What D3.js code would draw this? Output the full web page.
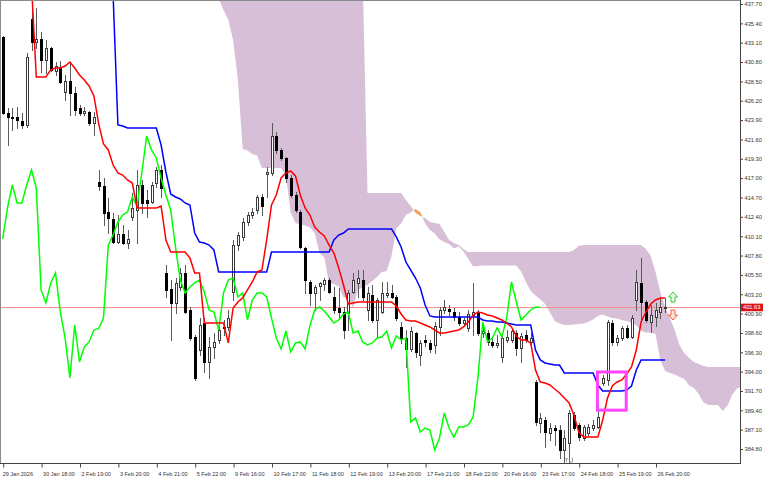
<!DOCTYPE html>
<html><head><meta charset="utf-8">
<script src="https://cdn.jsdelivr.net/npm/d3@7"></script>
<style>
html,body{margin:0;padding:0;background:#fff;}
svg{display:block;font-family:"Liberation Sans",Arial,sans-serif;}
</style></head><body>
<svg id="chart" width="768" height="480"></svg>
<script>
// ---- time axis labels (every 8 bars) ----
const timeLabels = ["29 Jan 2026","30 Jan 18:00","2 Feb 19:00","3 Feb 20:00","4 Feb 21:00","5 Feb 22:00","9 Feb 16:00","10 Feb 17:00","11 Feb 18:00","12 Feb 19:00","13 Feb 20:00","17 Feb 21:00","18 Feb 22:00","20 Feb 16:00","23 Feb 17:00","24 Feb 18:00","25 Feb 19:00","26 Feb 20:00"];
const timeLabelBars = [0,8,16,24,32,40,48,56,64,72,80,88,96,104,112,120,128,136];
// ---- price axis labels ----
const priceTicks = [437.70,435.40,433.10,430.80,428.50,426.20,423.90,421.60,419.30,417.00,414.70,412.40,410.10,407.80,405.50,403.20,400.90,398.60,396.30,394.00,391.70,389.40,387.10,384.80];
const lastPrice = 401.63;

// ---- candles (bars 0..138) ----
const opens = [433.78,424.74,424.27,424.27,423.79,423.32,435.92,433.18,433.54,431.04,432.47,429.74,430.21,427.24,428.55,427.12,425.34,424.74,424.86,423.56,
416.54,416.07,412.98,412.15,409.41,410.36,409.29,412.38,413.21,416.19,414.40,414.17,416.42,417.97,405.73,403.82,402.16,404.06,405.73,401.33,
398.12,396.57,399.78,395.15,396.93,397.76,399.31,399.31,403.47,409.05,410.01,411.79,412.62,413.21,414.76,417.49,417.61,422.01,420.35,419.40,
417.02,415.00,412.98,408.70,404.66,403.35,404.18,404.42,404.89,402.87,401.57,401.09,400.97,403.47,404.54,404.89,401.33,403.11,400.14,401.09,
403.11,403.35,402.87,399.31,398.00,396.69,398.60,395.98,397.76,397.41,397.17,399.31,401.33,401.45,401.09,400.50,399.78,399.19,400.73,401.09,
398.60,398.60,397.53,397.17,395.74,397.76,397.76,398.60,396.81,398.36,397.53,392.77,387.90,388.25,386.71,387.30,387.07,384.69,385.52,388.85,
387.66,386.11,386.71,387.30,387.42,392.65,393.01,399.78,397.53,398.00,399.19,398.12,402.52,404.54,402.28,399.90,400.50,401.09,401.57];
const highs = [433.90,425.34,425.34,425.46,424.74,431.88,436.99,437.22,434.37,433.42,432.59,430.81,430.93,429.26,430.69,427.83,425.70,425.46,424.98,424.86,
417.97,417.02,414.64,412.86,412.62,411.43,410.84,415.24,417.97,416.78,415.59,416.54,418.33,418.56,406.68,404.89,405.13,406.32,406.68,401.69,
398.36,400.38,400.38,398.12,398.60,399.55,400.14,401.33,409.65,410.60,412.26,412.98,413.45,415.00,415.12,418.33,423.56,422.49,420.58,419.51,
417.37,415.35,413.21,408.82,404.89,404.30,404.66,405.13,405.13,404.06,403.94,401.69,403.71,405.73,406.08,406.08,404.06,404.30,402.75,404.66,
404.66,404.30,403.11,399.90,398.95,399.31,398.71,397.76,398.36,397.76,399.90,401.69,402.52,401.92,401.57,401.09,400.38,401.33,404.54,401.33,
399.55,398.95,398.00,398.36,398.36,398.95,399.19,398.95,398.60,398.95,398.60,393.01,389.09,388.61,387.90,387.66,387.66,387.07,389.44,389.20,
387.90,387.66,387.78,388.25,390.16,393.60,400.14,400.14,398.36,399.43,399.55,400.73,406.08,407.51,402.52,401.92,402.16,402.75,402.75];
const lows = [424.63,420.94,422.72,422.96,422.96,423.08,432.23,432.47,429.62,429.50,429.74,429.26,428.31,426.29,424.51,424.51,424.51,424.51,423.32,422.13,
415.59,411.43,410.48,409.29,409.29,409.23,408.70,412.03,409.29,412.86,412.38,414.05,415.95,414.76,402.87,397.76,400.97,403.71,400.97,397.76,
393.01,395.98,393.96,393.25,395.62,397.41,398.36,398.95,402.52,408.46,409.65,411.43,412.26,412.86,412.62,414.76,417.37,419.99,419.16,416.54,
414.76,412.98,408.70,403.35,401.92,401.33,402.52,403.71,403.35,400.97,400.50,398.00,398.95,403.35,402.87,402.52,400.14,399.90,398.12,400.97,
402.87,402.75,400.14,397.41,394.55,396.46,395.74,394.79,397.05,396.34,396.22,398.36,400.97,400.73,400.14,399.55,399.43,398.83,398.36,398.36,
398.12,397.17,396.93,396.93,395.15,397.53,397.53,395.98,395.15,397.53,397.17,387.66,386.83,385.04,385.88,385.28,383.74,383.26,383.26,387.07,
385.88,385.88,386.47,387.07,387.30,392.41,392.41,397.17,397.17,397.76,398.00,398.00,401.33,400.14,399.90,398.71,399.43,400.38,401.09];
const closes = [424.74,424.27,424.21,423.91,423.32,431.40,433.18,433.54,431.04,432.47,429.86,430.33,428.43,428.55,427.12,425.10,424.74,424.98,423.56,424.27,
416.07,412.86,412.26,409.41,410.36,409.29,409.77,413.45,416.19,414.05,414.05,416.19,417.97,415.83,403.71,402.16,404.54,405.73,401.09,398.00,
393.25,399.55,395.15,396.93,397.53,398.95,399.13,400.38,409.05,410.24,411.79,412.62,412.98,414.76,413.69,417.73,422.01,420.35,419.40,417.02,
415.00,413.21,408.82,404.89,403.35,404.06,404.54,404.89,403.47,401.33,401.09,398.95,403.35,404.89,405.13,402.87,403.35,400.14,402.52,403.35,
403.35,402.87,400.38,398.00,396.69,398.83,396.34,397.41,397.53,396.69,399.43,401.33,401.69,401.21,400.50,399.78,400.14,400.85,401.09,398.60,
398.83,397.53,397.17,397.41,398.00,398.12,398.83,396.81,398.24,397.76,398.00,388.02,388.49,386.83,387.30,387.07,384.69,386.11,389.09,387.30,
386.23,387.42,387.42,387.66,388.61,393.25,399.90,397.53,398.00,399.19,398.12,400.38,404.66,402.28,400.14,400.73,401.33,401.69,401.63];

// ---- Ichimoku lines (bars 0..138, null = not visible) ----
const tenkan = [null,null,null,null,null,null,440.00,429.02,429.02,429.02,429.86,430.09,430.09,430.33,430.81,430.09,429.26,428.67,427.95,426.77,
423.44,421.06,420.35,418.56,417.61,417.37,416.78,416.42,413.45,413.45,413.45,413.45,413.45,413.69,409.65,408.22,408.22,408.22,408.22,407.51,
405.73,405.73,399.78,399.78,399.78,399.78,399.78,397.41,401.57,402.28,402.76,403.71,404.66,405.85,406.08,409.65,413.81,415.00,417.02,417.61,
417.85,417.26,415.00,413.45,412.62,411.19,410.60,410.12,409.05,408.10,406.32,404.30,402.04,402.16,402.28,402.28,402.28,402.28,402.28,402.28,
402.28,402.28,401.80,400.85,400.14,400.02,400.02,399.78,399.55,399.31,398.95,398.60,398.60,398.71,398.83,398.95,399.31,399.90,400.73,401.09,
400.97,400.73,400.62,400.38,400.14,399.78,399.31,398.24,397.76,397.76,397.41,394.20,392.77,392.65,392.41,391.94,391.46,390.87,390.27,388.85,
386.83,386.23,386.23,386.23,386.23,388.25,390.87,392.29,392.77,393.01,393.72,394.55,396.57,399.90,401.09,402.04,402.52,402.75,402.75];
const kijun = [null,null,null,null,null,null,null,null,null,null,null,null,null,null,null,null,null,null,null,null,
null,null,null,438.77,423.32,423.20,422.96,422.96,422.96,422.96,422.96,422.96,422.96,420.94,417.73,415.12,414.76,414.52,414.05,413.81,
410.48,409.41,409.29,409.05,408.46,405.85,405.85,405.85,405.85,405.85,405.85,405.85,405.85,405.85,405.85,405.85,408.22,408.22,408.22,408.22,
408.22,408.22,408.22,408.22,408.22,408.22,408.22,408.22,408.22,409.65,410.24,410.48,410.96,410.96,410.96,410.96,410.96,410.96,410.96,410.96,
410.96,410.96,410.01,408.82,407.03,406.08,405.13,403.94,401.92,400.62,400.50,400.50,400.50,400.50,400.50,400.50,400.50,400.50,400.50,400.50,
400.14,400.02,400.02,399.90,399.90,399.78,399.66,399.55,399.55,399.55,399.55,396.57,395.39,395.03,394.91,394.79,394.79,393.84,393.84,393.84,
393.84,393.84,393.84,393.84,392.41,391.70,391.70,391.70,391.70,391.70,391.82,392.29,394.20,395.39,395.39,395.39,395.39,395.39,395.39];
const chikouShift = 26; // lagging span: closes plotted 26 bars back

// ---- Kumo (cloud), bars 44..154 ----
const cloudStart = 44;
const spanA = [440.50,438.41,436.99,435.80,433.42,428.67,420.46,420.29,419.87,419.69,418.21,418.21,418.21,418.21,418.21,417.31,412.92,411.67,411.49,411.37,
411.13,410.48,408.10,407.57,404.54,404.42,404.12,402.81,402.81,401.63,403.71,404.06,404.30,404.78,405.25,405.85,405.96,407.75,411.01,411.61,
412.62,412.92,413.33,412.98,411.61,410.84,410.42,409.71,409.41,409.17,408.64,408.88,408.28,407.39,406.50,406.56,406.62,406.62,406.62,406.62,
406.62,406.62,406.62,406.62,405.90,404.66,403.59,403.05,402.58,402.04,401.03,400.02,399.72,399.55,399.55,399.60,399.66,399.72,399.90,400.20,
400.62,400.79,400.56,400.38,400.32,400.14,400.02,399.78,399.49,398.89,398.65,398.65,398.48,395.39,394.08,393.84,393.66,393.36,393.13,392.35,
392.06,391.34,390.33,390.04,390.04,390.04,389.32,389.98,391.29,391.99,392.24];
const spanB = [441.00,441.00,441.00,441.00,441.00,441.00,441.00,441.00,441.00,441.00,441.00,441.00,441.00,441.00,441.00,441.00,441.00,441.00,441.00,441.00,
441.00,441.00,441.00,441.00,441.00,441.00,441.00,441.00,441.00,441.00,441.00,441.00,415.24,415.24,415.24,415.24,415.24,415.24,415.24,415.24,
414.40,413.69,412.86,412.50,412.26,411.79,411.67,411.55,410.60,409.65,409.29,409.05,408.58,408.22,408.22,408.22,408.22,408.22,408.22,408.22,
408.22,408.22,408.22,408.22,408.22,408.22,408.22,408.22,408.22,408.22,408.22,408.22,408.22,408.22,408.22,408.46,408.93,409.05,409.05,409.05,
409.05,409.05,409.05,409.05,409.05,409.05,409.05,409.05,409.05,409.05,408.58,407.75,405.85,403.47,401.69,400.38,398.95,397.17,396.22,395.62,
395.15,394.91,394.67,394.55,394.55,394.55,394.55,394.55,394.55,394.55,394.55];

// ---- chart objects ----
const boxBars = [123.9, 129.9];
const boxPrices = [393.96, 389.42];
const arrowBar = 139.65;
const upArrowPrice = 402.87;
const downArrowPrice = 400.73;
const eventBar = 117.3; // small event marker on time axis

// ================= drawing =================
const W = 768, H = 480, plotR = 740, plotB = 463;
const svg = d3.select('#chart');
const x = d3.scaleLinear().domain([0, 138]).range([2.7, 2.7 + 4.8 * 138]);
const y = d3.scaleLinear().domain([383.14, 438.175]).range([plotB, 0]);

svg.append('rect').attr('width', W).attr('height', H).attr('fill', '#fff');
svg.append('defs').append('clipPath').attr('id', 'plotclip')
  .append('rect').attr('x', 1).attr('y', 1).attr('width', plotR - 1).attr('height', plotB - 1);
const g = svg.append('g').attr('clip-path', 'url(#plotclip)');

// cloud with crossing points inserted
const cpts = spanA.map((a, k) => ({ i: cloudStart + k, a: a, b: spanB[k] }));
const pts = [];
cpts.forEach((p, k) => {
  pts.push(p);
  const q = cpts[k + 1];
  if (q) {
    const d1 = p.a - p.b, d2 = q.a - q.b;
    if (d1 * d2 < 0) {
      const t = d1 / (d1 - d2);
      const v = p.a + t * (q.a - p.a);
      pts.push({ i: p.i + t * (q.i - p.i), a: v, b: v });
    }
  }
});
const areaDown = d3.area().x(d => x(d.i)).y0(d => y(d.a)).y1(d => y(Math.max(d.a, d.b)));
const areaUp = d3.area().x(d => x(d.i)).y0(d => y(d.b)).y1(d => y(Math.max(d.a, d.b)));
g.append('path').attr('d', areaDown(pts)).attr('fill', '#d8bfd8');
g.append('path').attr('d', areaUp(pts)).attr('fill', '#f4a460');

// last price line
const yl = Math.round(y(lastPrice)) + 0.5;
g.append('line').attr('x1', 0).attr('x2', plotR).attr('y1', yl).attr('y2', yl)
  .attr('stroke', '#f4908c').attr('stroke-width', 1);

// candles
const cg = g.append('g');
opens.forEach((o, i) => {
  const c = closes[i];
  const cx = Math.round(x(i));
  cg.append('line').attr('x1', cx + 0.5).attr('x2', cx + 0.5)
    .attr('y1', Math.round(y(highs[i]))).attr('y2', Math.round(y(lows[i])) + 1)
    .attr('stroke', '#5a5a5a').attr('stroke-width', 1);
  let top = Math.round(y(Math.max(o, c))), bot = Math.round(y(Math.min(o, c)));
  if (bot - top < 1) bot = top + 1;
  if (c >= o) {
    cg.append('rect').attr('x', cx - 0.5).attr('y', top + 0.5).attr('width', 2)
      .attr('height', Math.max(bot - top, 1)).attr('fill', '#fff').attr('stroke', '#3a3a3a').attr('stroke-width', 1);
  } else {
    cg.append('rect').attr('x', cx - 1).attr('y', top).attr('width', 3)
      .attr('height', bot - top + 1).attr('fill', '#000');
  }
});

// indicator lines
const lineGen = d3.line().defined(d => d.v != null).x(d => x(d.i)).y(d => y(d.v));
const chikou = closes.slice(chikouShift).map((v, k) => ({ i: k, v: v }));
g.append('path').attr('d', lineGen(chikou)).attr('fill', 'none').attr('stroke', '#00ff00').attr('stroke-width', 1.5);
g.append('path').attr('d', lineGen(kijun.map((v, i) => ({ i, v })))).attr('fill', 'none').attr('stroke', '#0000ff').attr('stroke-width', 1.5);
g.append('path').attr('d', lineGen(tenkan.map((v, i) => ({ i, v })))).attr('fill', 'none').attr('stroke', '#ff0000').attr('stroke-width', 1.5);

// rectangle object
g.append('rect')
  .attr('x', x(boxBars[0])).attr('y', y(boxPrices[0]))
  .attr('width', x(boxBars[1]) - x(boxBars[0])).attr('height', y(boxPrices[1]) - y(boxPrices[0]))
  .attr('fill', 'none').attr('stroke', '#ff44ff').attr('stroke-width', 3);

// arrows
g.append('path').attr('d', 'M0,-5 L4.5,0 L2,0 L2,5 L-2,5 L-2,0 L-4.5,0 Z')
  .attr('transform', `translate(${x(arrowBar)},${y(upArrowPrice)})`)
  .attr('fill', '#eaffea').attr('stroke', '#33cc33').attr('stroke-width', 1);
g.append('path').attr('d', 'M0,5 L4.5,0 L2,0 L2,-5 L-2,-5 L-2,0 L-4.5,0 Z')
  .attr('transform', `translate(${x(arrowBar)},${y(downArrowPrice)})`)
  .attr('fill', '#ffe2dc').attr('stroke', '#ff5a3c').attr('stroke-width', 1);

// small event marker near the time axis
const ex = Math.round(x(eventBar));
g.append('path').attr('d', `M${ex + 0.5},462 L${ex + 0.5},458 M${ex - 1},459.5 L${ex + 0.5},458 L${ex + 2},459.5`)
  .attr('stroke', '#888').attr('fill', 'none').attr('stroke-width', 0.8);
g.append('path').attr('d', `M${ex + 3.5},458 L${ex + 3.5},462 L${ex + 6.5},462 L${ex + 6.5},458`)
  .attr('stroke', '#888').attr('fill', 'none').attr('stroke-width', 0.8);

// frame
svg.append('line').attr('x1', 0.5).attr('x2', 0.5).attr('y1', 0).attr('y2', plotB).attr('stroke', '#8a8a8a');
svg.append('line').attr('x1', 0).attr('x2', plotR).attr('y1', 0.5).attr('y2', 0.5).attr('stroke', '#8a8a8a');
svg.append('line').attr('x1', plotR + 0.5).attr('x2', plotR + 0.5).attr('y1', 0).attr('y2', plotB + 1).attr('stroke', '#444');
svg.append('line').attr('x1', 0).attr('x2', plotR + 1).attr('y1', plotB + 0.5).attr('y2', plotB + 0.5).attr('stroke', '#444');

// right price axis
const ay = svg.append('g').attr('transform', `translate(${plotR + 0.5},0)`)
  .call(d3.axisRight(y).tickValues(priceTicks).tickSize(2.5).tickPadding(1.5).tickFormat(d3.format('.2f')));
ay.select('.domain').remove();
ay.selectAll('line').attr('stroke', '#444');
ay.selectAll('text').attr('font-size', 5.7).attr('fill', '#333').attr('font-family', '"Liberation Sans",Arial,sans-serif');

// last price label
const lp = svg.append('g');
lp.append('rect').attr('x', plotR + 1).attr('y', y(lastPrice) - 3.8).attr('width', 22).attr('height', 7.6).attr('fill', '#dc1414');
lp.append('text').attr('x', plotR + 3).attr('y', y(lastPrice) + 2).attr('font-size', 5.7).attr('fill', '#fff').text(lastPrice.toFixed(2));

// bottom time axis
const ax = svg.append('g').attr('transform', `translate(0,${plotB + 0.5})`)
  .call(d3.axisBottom(x).tickValues(timeLabelBars).tickSize(4).tickFormat((d, k) => timeLabels[k]));
ax.select('.domain').remove();
ax.selectAll('.tick line').attr('stroke', '#444').attr('transform', 'translate(0.5,0)');
ax.selectAll('text').attr('text-anchor', 'start').attr('x', (d, k) => k === 0 ? -0.5 : 1.5).attr('y', 12).attr('dy', 0)
  .attr('font-size', 5.5).attr('fill', '#333').attr('font-family', '"Liberation Sans",Arial,sans-serif');
</script>
</body></html>
